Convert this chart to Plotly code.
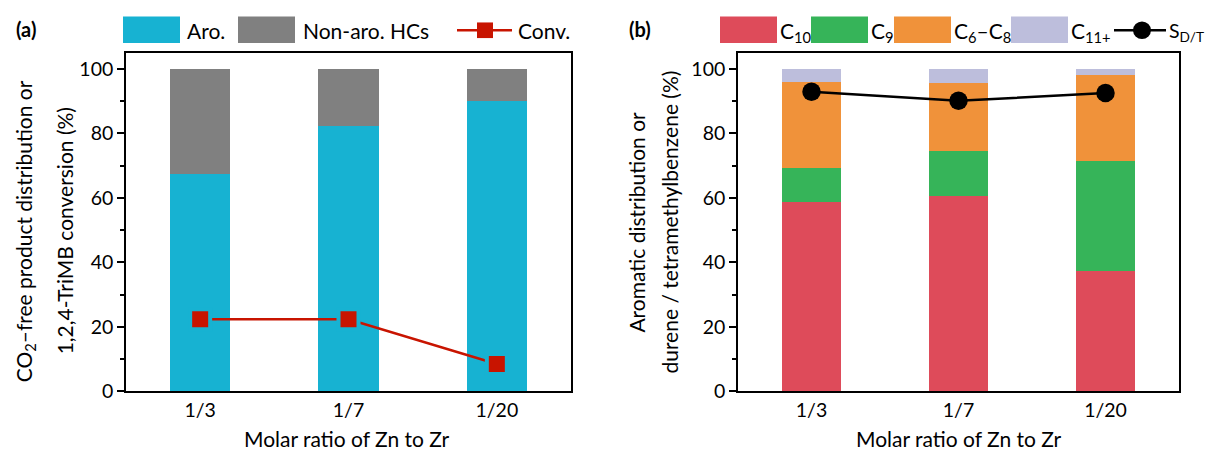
import plotly.graph_objects as go
from plotly.subplots import make_subplots

categories = ["1/3", "1/7", "1/20"]
# panel (a)
aro = [67.5, 82.3, 90.0]
non_aro = [32.5, 17.7, 10.0]
conv = [22.4, 22.4, 8.5]
# panel (b)
c10 = [58.8, 60.7, 37.5]
c9 = [10.7, 13.8, 34.0]
c6_c8 = [26.4, 21.1, 26.6]
c11 = [4.1, 4.4, 1.9]
s_dt = [92.9, 90.1, 92.5]

W, H = 1205, 462
FONT = "Lato"
TS = 21  # text size
def px(x):
    return x / W
def py(y):
    return 1 - y / H

TEAL = "#17B2D2"
GRAY = "#808080"
RED = "#C81400"
C10C = "#DE4B5A"
C9C = "#36B459"
C68C = "#F0923A"
C11C = "#BDBEDC"

fig = make_subplots(rows=1, cols=2)
xs = [0, 1, 2]
bw = 0.406

def bar(y, color, name, col):
    fig.add_trace(go.Bar(x=xs, y=y, width=bw, marker=dict(color=color, line=dict(width=0)),
                         name=name, showlegend=False), row=1, col=col)

bar(aro, TEAL, "Aro.", 1)
bar(non_aro, GRAY, "Non-aro. HCs", 1)
fig.add_trace(go.Scatter(x=xs, y=conv, mode="lines+markers", name="Conv.", showlegend=False,
                         line=dict(color=RED, width=2.5),
                         marker=dict(symbol="square", size=20, color=RED,
                                     line=dict(color=TEAL, width=4))), row=1, col=1)
bar(c10, C10C, "C10", 2)
bar(c9, C9C, "C9", 2)
bar(c6_c8, C68C, "C6-C8", 2)
bar(c11, C11C, "C11+", 2)
fig.add_trace(go.Scatter(x=xs, y=s_dt, mode="lines+markers", name="S_D/T", showlegend=False,
                         line=dict(color="black", width=2.5),
                         marker=dict(symbol="circle", size=18.5, color="black")), row=1, col=2)

axis_common = dict(showline=True, linecolor="black", linewidth=1.6, mirror=True,
                   showgrid=False, zeroline=False)
tickfont = dict(family=FONT, size=19.5, color="black")
for i, dom in [(1, (126, 571)), (2, (738, 1179))]:
    fig.update_xaxes(domain=[px(dom[0]), px(dom[1])], range=[-0.5, 2.5],
                     tickmode="array", tickvals=xs, ticktext=categories,
                     ticks="", tickfont=tickfont, **axis_common, row=1, col=i)
    fig.update_yaxes(domain=[py(401), py(54)], range=[0, 105],
                     tickmode="array", tickvals=[0, 20, 40, 60, 80, 100],
                     ticks="outside", ticklen=7, tickwidth=1.6, tickcolor="black",
                     minor=dict(tickvals=[10, 30, 50, 70, 90], ticks="outside", ticklen=4,
                                tickwidth=1.6, tickcolor="black"),
                     tickfont=tickfont, **axis_common, row=1, col=i)

annotations = []
shapes = []
def text(x, y, s, size=TS, angle=0, xanchor="center", yanchor="middle"):
    annotations.append(dict(x=px(x), y=py(y), xref="paper", yref="paper", text=s,
                            showarrow=False, textangle=angle, xanchor=xanchor, yanchor=yanchor,
                            font=dict(family=FONT, size=size, color="black"),
                            bgcolor="rgba(0,0,0,0)"))

# axis titles
text(25, 237, "CO<sub>2</sub>\u2013free product distribution or", angle=-90)
text(64, 237, "1,2,4-TriMB conversion (%)", angle=-90)
text(637, 228, "Aromatic distribution or", angle=-90)
text(670, 228, "durene / tetramethylbenzene (%)", angle=-90)
text(347, 449, "Molar ratio of Zn to Zr")
text(959, 449, "Molar ratio of Zn to Zr")
# panel labels
text(26, 30, "<b>(a)</b>", size=20)
text(640, 30, "<b>(b)</b>", size=20)

def rect(x0, x1, color):
    shapes.append(dict(type="rect", xref="paper", yref="paper", x0=px(x0), x1=px(x1),
                       y0=py(44), y1=py(17), fillcolor=color, line=dict(width=0)))

# legend (a)
rect(123, 180, TEAL); text(185, 31, "Aro.", xanchor="left")
rect(238, 295, GRAY); text(301, 31, "Non-aro. HCs", xanchor="left")
shapes.append(dict(type="line", xref="paper", yref="paper", x0=px(457), x1=px(512),
                   y0=py(31), y1=py(31), line=dict(color=RED, width=2.5)))
shapes.append(dict(type="rect", xref="paper", yref="paper", x0=px(477), x1=px(493),
                   y0=py(39), y1=py(23), fillcolor=RED, line=dict(width=0)))
text(516, 31, "Conv.", xanchor="left")
# legend (b)
rect(720, 777, C10C); text(778, 33, "C<sub>10</sub>", xanchor="left")
rect(811, 868, C9C); text(869, 33, "C<sub>9</sub>", xanchor="left")
rect(894, 951, C68C); text(952, 33, "C<sub>6</sub>\u2013C<sub>8</sub>", xanchor="left")
rect(1011, 1068, C11C); text(1069, 33, "C<sub>11+</sub>", xanchor="left")
shapes.append(dict(type="line", xref="paper", yref="paper", x0=px(1114), x1=px(1166),
                   y0=py(31), y1=py(31), line=dict(color="black", width=2.5)))
shapes.append(dict(type="circle", xref="paper", yref="paper", x0=px(1133), x1=px(1151),
                   y0=py(40), y1=py(22), fillcolor="black", line=dict(width=0)))
text(1167, 33, "S<sub>D/T</sub>", size=19.5, xanchor="left")

fig.update_layout(width=W, height=H, margin=dict(l=0, r=0, t=0, b=0),
                  barmode="stack", bargap=0, plot_bgcolor="white", paper_bgcolor="white",
                  showlegend=False, annotations=annotations, shapes=shapes,
                  font=dict(family=FONT, color="black"))
fig.write_html("out.html", config={"displayModeBar": False},
               post_script="document.body.style.margin='0';document.body.style.padding='0';document.body.style.overflow='hidden';")
